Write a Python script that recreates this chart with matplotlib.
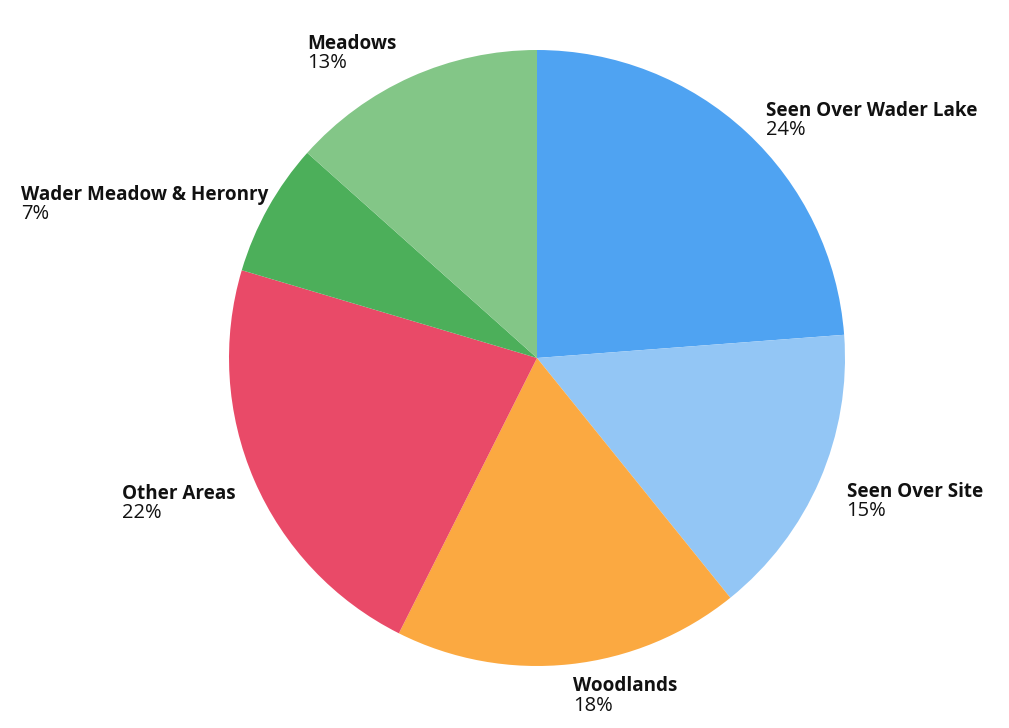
import numpy as np
import matplotlib.pyplot as plt

# slice data, clockwise from 12 o'clock
names = ["Seen Over Wader Lake", "Seen Over Site", "Woodlands",
         "Other Areas", "Wader Meadow & Heronry", "Meadows"]
shares = [23.8, 15.4, 18.2, 22.2, 7.0, 13.4]
colours = ["#4fa3f2", "#93c6f5", "#fba941", "#e94a68", "#4caf5a", "#83c687"]

# small hand nudges for the labels, in pixels (right, down)
nudges = {"Woodlands": (0, -7), "Other Areas": (8, 2),
          "Wader Meadow & Heronry": (26, 1), "Meadows": (-3, -6)}

plt.rcParams['font.family'] = ['Open Sans', 'DejaVu Sans']

fig = plt.figure(figsize=(10.09, 7.28), dpi=100)
ax = fig.add_axes([0, 0, 1, 1])

wedges, _ = ax.pie(shares, colors=colours, startangle=90, counterclock=False,
                   radius=1.0, wedgeprops=dict(linewidth=0))

# pixel layout: centre (537, 358), radius 308 px
px = 308.0
ax.set_aspect('auto')
ax.set_xlim(-537 / px, (1009 - 537) / px)
ax.set_ylim(-(728 - 358) / px, 358 / px)
ax.axis('off')

total = sum(shares)
for w, name, val in zip(wedges, names, shares):
    mid = np.deg2rad((w.theta1 + w.theta2) / 2)
    r = 1.095
    x, y = r * np.cos(mid), r * np.sin(mid)
    dx, dy = nudges.get(name, (0, 0))
    x += dx / px
    y -= dy / px
    ha = 'left' if x >= -0.01 else 'right'
    t = ax.text(x, y, name, ha=ha, va='center', fontsize=13.6,
                fontweight='bold', color='#111111')
    ax.annotate(f"{round(val / total * 100)}%", xy=(0, 0), xycoords=t,
                xytext=(0, 0.5), textcoords='offset points',
                ha='left', va='top', fontsize=14.5, color='#111111')

fig.savefig("out.png", dpi=100)
